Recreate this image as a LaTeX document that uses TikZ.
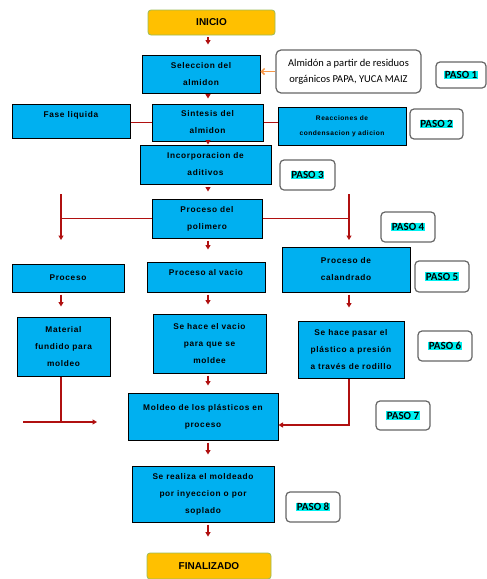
\documentclass[tikz,border=0pt]{standalone}
\usepackage{fontspec}
\setmainfont{Liberation Sans}
\newfontfamily\cajafont[LetterSpace=8]{Liberation Sans}
\newfontfamily\calfont{Carlito}
\usetikzlibrary{arrows.meta,calc,positioning}
\definecolor{azul}{RGB}{0,176,240}
\definecolor{rojo}{RGB}{176,16,16}
\definecolor{oro}{RGB}{255,192,0}
\definecolor{verdeb}{RGB}{155,187,89}
\definecolor{naranja}{RGB}{247,150,70}
\definecolor{resalte}{RGB}{0,240,240}
\newcommand{\paso}[1]{{\setlength{\fboxsep}{0.6pt}\colorbox{resalte}{#1}}}

\begin{document}
\begin{tikzpicture}[x=1pt,y=-1pt,>={Triangle[length=4.5pt,width=5pt]},
caja/.style={draw=black,line width=1pt,fill=azul,align=center,inner sep=1pt,
  font=\cajafont\bfseries\fontsize{8.3}{17}\selectfont},
extremo/.style={draw=verdeb,line width=.8pt,fill=oro,rounded corners=3pt,
  font=\bfseries\fontsize{10}{11}\selectfont},
nota/.style={draw=gray!80!black,line width=1.2pt,fill=white,rounded corners=5pt,
  align=center,font=\calfont\fontsize{10.5}{16}\selectfont},
pasobox/.style={draw=gray!80!black,line width=1.2pt,fill=white,rounded corners=4pt,
  font=\calfont\bfseries\fontsize{11}{12}\selectfont},
linea/.style={draw=rojo,line width=1.8pt},
flecha/.style={draw=rojo,line width=1.8pt,->,shorten <=2pt}]
\useasboundingbox (0,0) rectangle (487,579);
% ejes de las columnas
\coordinate (eje) at (208,0);
\coordinate (izq) at (61,0);
\coordinate (der) at (349,0);
% cajas
\node[extremo,minimum width=127,minimum height=25] (inicio) at (211.5,22.5) {INICIO};
\node[caja,minimum width=118,minimum height=38] (selec) at (201,74) {Seleccion del\\almidon};
\node[nota,minimum width=145,minimum height=43] (almidon) at (348.5,71.5) {Almidón a partir de residuos\\orgánicos PAPA, YUCA MAIZ};
\node[caja,minimum width=118,minimum height=34,text depth=14pt] (fase) at (71,121) {Fase liquida};
\node[caja,minimum width=111,minimum height=37] (sintesis) at (207.5,122.5) {Sintesis del\\almidon};
\node[caja,minimum width=128,minimum height=38,font=\cajafont\bfseries\fontsize{6.6}{15}\selectfont] (reacc) at (342,126) {Reacciones de\\condensacion y adicion};
\node[caja,minimum width=131,minimum height=39] (incorp) at (205.5,164.5) {Incorporacion de\\aditivos};
\node[caja,minimum width=110,minimum height=39] (polim) at (207,218.5) {Proceso del\\polimero};
\node[caja,minimum width=112,minimum height=28] (proc) at (68,278) {Proceso};
\node[caja,minimum width=118,minimum height=30,text depth=10pt] (vacio) at (206,277) {Proceso al vacio};
\node[caja,minimum width=128,minimum height=45] (calan) at (346,269.5) {Proceso de\\calandrado};
\node[caja,minimum width=93,minimum height=59] (fundido) at (63.5,346.5) {Material\\fundido para\\moldeo};
\node[caja,minimum width=113,minimum height=59] (hvacio) at (209.5,343.5) {Se hace el vacio\\para que se\\moldee};
\node[caja,minimum width=106,minimum height=57] (pasar) at (351,349.5) {Se hace pasar el\\plástico a presión\\a través de rodillo};
\node[caja,minimum width=150,minimum height=47] (moldeo) at (203,416.5) {Moldeo de los plásticos en\\proceso};
\node[caja,minimum width=142,minimum height=56] (realiza) at (203,494) {Se realiza el moldeado\\por inyeccion o por\\soplado};
\node[extremo,minimum width=124,minimum height=26] (final) at (209,566) {FINALIZADO};
% pasos
\node[pasobox,minimum width=50,minimum height=26] (paso1) at (461,75) {\paso{PASO 1}};
\node[pasobox,minimum width=53,minimum height=30] (paso2) at (436.5,124) {\paso{PASO 2}};
\node[pasobox,minimum width=55,minimum height=30] (paso3) at (307.5,175) {\paso{PASO 3}};
\node[pasobox,minimum width=54,minimum height=30] (paso4) at (408,227) {\paso{PASO 4}};
\node[pasobox,minimum width=54,minimum height=31] (paso5) at (442,276.5) {\paso{PASO 5}};
\node[pasobox,minimum width=54,minimum height=30] (paso6) at (445,346) {\paso{PASO 6}};
\node[pasobox,minimum width=54,minimum height=29] (paso7) at (403,415.5) {\paso{PASO 7}};
\node[pasobox,minimum width=54,minimum height=30] (paso8) at (313,507) {\paso{PASO 8}};
% flechas del eje central
\foreach \a/\b/\s in {inicio/selec/10,selec/sintesis/5,sintesis/incorp/0,incorp/polim/7,
  polim/vacio/12,vacio/hvacio/9,hvacio/moldeo/7,moldeo/realiza/11,realiza/final/16}
  \draw[flecha,shorten >=\s pt] (\a.south -| eje) -- (\b.north -| eje);
\draw[naranja,line width=1.5pt,-{Straight Barb[length=3pt,width=6pt]}] (almidon.west) -- (almidon.west -| selec.east);
\draw[linea] (sintesis.west -| fase.east) -- (sintesis.west);
\draw[linea] (sintesis.east) -- (sintesis.east -| reacc.west);
% ramas del polimero
\coordinate (rama1) at (61,194);
\coordinate (rama2) at (349,194);
\draw[linea] (polim.west) -- (polim.west -| rama1);
\draw[linea] (polim.east) -- (polim.east -| rama2);
\draw[flecha,shorten <=0pt] (rama1) -- ++(0,46);
\draw[flecha,shorten <=0pt] (rama2) -- ++(0,46);
\draw[flecha,shorten >=10pt] (proc.south -| izq) -- (fundido.north -| izq);
\draw[flecha,shorten >=13pt] (calan.south -| der) -- (pasar.north -| der);
% salidas hacia el moldeo
\coordinate (sal1) at (23,422);
\coordinate (sal2) at (97,422);
\draw[linea] (fundido.south -| izq) -- (sal1 -| izq);
\draw[flecha,shorten <=0pt] (sal1) -- (sal2);
\draw[flecha,shorten <=0pt] (pasar.south -| der) |- ([yshift=-8.5pt]moldeo.east);
\end{tikzpicture}
\end{document}
